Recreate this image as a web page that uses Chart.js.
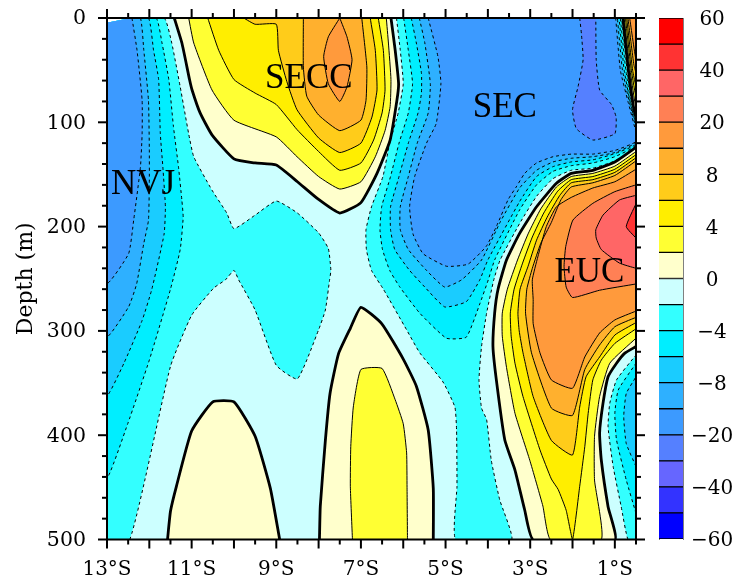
<!DOCTYPE html>
<html><head><meta charset="utf-8">
<script src="https://cdn.jsdelivr.net/npm/chart.js@4"></script>
<style>html,body{margin:0;padding:0;background:#fff}#m{position:absolute;left:0;top:0}#c{position:absolute;left:640px;top:0}</style>
</head><body>
<canvas id="m" width="735" height="581"></canvas>
<canvas id="c" width="95" height="581"></canvas>
<script>
const FONT = '"DejaVu Serif", serif';
const NAMEFONT = '"Liberation Serif", serif';
// contour lines: [latitude, depth]
const domain = [[-13,4.5],[-12.45,0],[-0.5,0],[-0.5,500],[-13,500]];
const m2W = [[-12.45,0],[-11.65,0],[-11.47,24],[-11.27,66],[-11.07,111],[-10.95,133],[-10.52,165],[-10.17,187],[-10,202],[-9.5,189],[-9,175.5],[-8.5,187],[-8,206],[-7.77,221],[-7.71,242],[-7.74,251],[-7.84,280],[-8,299],[-8.5,346],[-9,333],[-9.5,280],[-9.89,251],[-10,242],[-10.2,251],[-10.48,259],[-11,285],[-11.5,334],[-12.46,500],[-13,500],[-13,4.5]];
const m4W = [[-12.45,0],[-11.84,0],[-11.7,24],[-11.54,59],[-11.43,104],[-11.31,143],[-11.23,175],[-11.2,191],[-11.27,222],[-11.5,260],[-12,328],[-12.51,389],[-13,440],[-13,4.5]];
const m6W = [[-12.45,0],[-12.02,0],[-11.9,31],[-11.78,59],[-11.74,111],[-11.68,143],[-11.62,181],[-11.65,207],[-11.94,260],[-12.17,290],[-12.6,331],[-13,361.5],[-13,4.5]];
const m8W = [[-12.45,0],[-12.21,0],[-12.13,31],[-12.02,79],[-12,126],[-12,158],[-12.02,194],[-12.13,216],[-12.3,255],[-12.49,277],[-13,305],[-13,4.5]];
const m12W = [[-12.41,0],[-12.29,31],[-12.17,79],[-12.17,111],[-12.21,143],[-12.37,194],[-12.49,226],[-13,254],[-13,4.5]];
const m2E = [[-6.16,0],[-6.07,31],[-6,63],[-6.12,91],[-6.32,120],[-6.48,152],[-6.75,181],[-6.88,203],[-6.87,222],[-6.75,242],[-6.47,260],[-5.92,299],[-5.61,321],[-5.06,349],[-4.78,373],[-4.74,395],[-4.73,449],[-4.76,500],[-3.44,500],[-3.72,462],[-3.92,424],[-4.03,385],[-4.15,374],[-4.21,347],[-4.15,315],[-4.03,283],[-3.86,251],[-3.71,232],[-3.25,197],[-2.85,171],[-2.46,154],[-2.03,146],[-1.52,144],[-1,137],[-0.5,123],[-0.5,97],[-0.6,82],[-0.71,50],[-0.84,0]];
const m4E = [[-5.99,0],[-5.88,31],[-5.78,63],[-5.88,91],[-6.1,120],[-6.3,152],[-6.51,181],[-6.55,203],[-6.49,222],[-6.32,242],[-6.08,258],[-5.61,283],[-4.98,307],[-4.51,306],[-4.19,274],[-3.99,251],[-3.84,232],[-3.25,184],[-2.85,160],[-2.46,147],[-2.03,141.6],[-1.52,139],[-1,133],[-0.5,122],[-0.5,100],[-0.6,86],[-0.74,50],[-0.87,0]];
const m6E = [[-5.81,0],[-5.69,24],[-5.57,53],[-5.57,72],[-5.65,91],[-5.88,120],[-6.1,152],[-6.3,181],[-6.3,203],[-6.2,222],[-5.85,242],[-5.49,258],[-5.02,277],[-4.51,272],[-4.19,251],[-4,232],[-3.25,176],[-2.85,152],[-2.46,142.5],[-2.03,138],[-1.52,136],[-1,130],[-0.5,121],[-0.5,103],[-0.62,84],[-0.78,50],[-0.9,0]];
const m8E = [[-5.62,0],[-5.49,24],[-5.36,63],[-5.41,91],[-5.67,120],[-5.88,152],[-6.07,181],[-6.07,203],[-5.88,222],[-5.45,242],[-5.02,258],[-4.62,251],[-4.15,232],[-3.7,195],[-3.25,163],[-2.85,146],[-2.46,138],[-2.03,134.5],[-1.52,133],[-1,129],[-0.5,119.5],[-0.5,106],[-0.65,82],[-0.82,50],[-0.94,0]];
const m12E = [[-5.41,0],[-5.18,37],[-5.11,63],[-5.22,101],[-5.45,120],[-5.73,152],[-5.85,181],[-5.77,207],[-5.53,226],[-4.98,238],[-4.47,236],[-4.04,219],[-3.8,200],[-3.52,174],[-3.33,162],[-3.13,149],[-2.85,139],[-2.46,133],[-2.03,130.5],[-1.52,130.5],[-1,127],[-0.5,118.6],[-0.5,110],[-0.69,80],[-0.87,50],[-0.98,0]];
const m20 = [[-1.83,0],[-1.79,15],[-1.75,40],[-1.87,66],[-2,88],[-1.91,106],[-1.52,117],[-1,111],[-0.97,95],[-1.08,83],[-1.36,69],[-1.44,40],[-1.45,0]];
const m2P = [[-0.5,500],[-0.69,500],[-0.85,468.5],[-1.04,430],[-1.16,392],[-1.12,369.5],[-0.96,347],[-0.5,323]];
const m4P = [[-0.5,475],[-0.73,443],[-0.96,404.6],[-1,379],[-0.92,356.7],[-0.5,331]];
const m6P = [[-0.5,430],[-0.73,408],[-0.79,382],[-0.73,360],[-0.5,344]];
const z0A = [[-11.41,0],[-11.23,24],[-11.05,59],[-10.99,69],[-10.8,91],[-10.52,112],[-10,135],[-9.5,139],[-9,141],[-8.5,157],[-8,174],[-7.5,187],[-7,177],[-6.62,149],[-6.31,117],[-6.15,79],[-6.11,63],[-6.19,31],[-6.29,0]];
const p2A = [[-11.07,0],[-10.95,24],[-10.52,69],[-10,98],[-9,114],[-8.51,133],[-8,152],[-7.5,164],[-7,157],[-6.66,133],[-6.43,108],[-6.31,85],[-6.29,59],[-6.35,24],[-6.4,0]];
const p4A = [[-10.62,0],[-10.36,31],[-10,59],[-9.5,72],[-9,83],[-8.51,107],[-8,128],[-7.5,146],[-7,139],[-6.7,117],[-6.5,91],[-6.43,69],[-6.47,31],[-6.59,0]];
const p6A = [[-9.77,0],[-9.5,6],[-9,6],[-8.95,31],[-8.75,61],[-8.51,88],[-8,115],[-7.5,129],[-7,120],[-6.74,95],[-6.62,69],[-6.66,31],[-6.78,0]];
const p8A = [[-8.36,0],[-8.36,47],[-8.28,75],[-8,93],[-7.5,108],[-7,98],[-6.88,79],[-6.86,47],[-6.98,0]];
const p12A = [[-7.5,0],[-7.77,18],[-7.88,37],[-7.77,63],[-7.5,80],[-7.33,66],[-7.21,40],[-7.33,18],[-7.5,0]];
const z0B = [[-11.57,500],[-11.5,473],[-11.36,449],[-11,396],[-10.5,368],[-10,368],[-9.5,401],[-9.14,451],[-8.92,500]];
const z0C = [[-7.98,500],[-7.96,468],[-7.84,405],[-7.73,360],[-7.53,322],[-7.25,297.5],[-7,277.4],[-6.51,293],[-6,327],[-5.69,353],[-5.41,395],[-5.29,451],[-5.29,500]];
const p2C = [[-7.2,500],[-7.25,449],[-7.24,411],[-7.18,373],[-7,337],[-6.5,336],[-6.19,366],[-6,389],[-5.92,417],[-5.91,450],[-5.9,500]];
const z0D = [[-0.5,124],[-1,138],[-1.52,146],[-2.03,149],[-2.38,158.5],[-2.85,181],[-3.25,206.5],[-3.56,232],[-3.76,260],[-3.84,283],[-3.88,315],[-3.8,347],[-3.6,404.6],[-3.36,433.4],[-3.13,471.7],[-2.93,500],[-1,500],[-1.16,468.5],[-1.32,423.8],[-1.36,398],[-1.28,369.5],[-1.16,344],[-0.96,331],[-0.77,321.5],[-0.5,315]];
const p2D = [[-0.5,128],[-1,142],[-1.52,149],[-2.03,152],[-2.38,162],[-2.75,183],[-3.05,207],[-3.3,232],[-3.54,260],[-3.66,283],[-3.66,305],[-3.56,335],[-3.36,379],[-3.01,424],[-2.7,468],[-2.52,500],[-1.32,500],[-1.48,443],[-1.48,401],[-1.36,363],[-1.12,331],[-0.5,307]];
const p4D = [[-0.5,131],[-1,145],[-1.52,152],[-2.03,155],[-2.35,166],[-2.68,187],[-2.95,210],[-3.18,235],[-3.38,260],[-3.47,283],[-3.45,305],[-3.36,331],[-3.17,363],[-2.77,414],[-2.5,442],[-2.34,452],[-2.15,472],[-2,500],[-1.83,449],[-1.71,411],[-1.63,379],[-1.52,347],[-1.32,328],[-1,312],[-0.5,298]];
const p6D = [[-0.5,134],[-1,148],[-1.52,155],[-2.03,158],[-2.3,170],[-2.6,191],[-2.85,213],[-3.05,238],[-3.24,260],[-3.29,283],[-3.26,300],[-3.17,321],[-2.93,363],[-2.5,405],[-2,419],[-1.83,373],[-1.68,344],[-1.36,325],[-1,304],[-0.5,292]];
const p8D = [[-0.5,137],[-1,151],[-1.52,158],[-2.03,162],[-2.27,174],[-2.5,196],[-2.75,216],[-2.95,240],[-3.08,260],[-3.11,283],[-2.97,321],[-2.5,374],[-2,381],[-1.71,337],[-1.36,313.5],[-1,296],[-0.5,287]];
const p12D = [[-0.5,145],[-1,157],[-1.52,163],[-2.03,172],[-2.38,181],[-2.62,200],[-2.82,229],[-2.95,251],[-2.93,270],[-2.93,293],[-2.77,321],[-2.5,347],[-2,355],[-1.71,325],[-1.36,302],[-1,289.5],[-0.5,281]];
const p20D = [[-0.5,160],[-1,166.5],[-1.52,177.7],[-1.99,193.7],[-2.16,219],[-2.2,238],[-2.15,258],[-2,268],[-1.36,261],[-0.5,255]];
const p30D = [[-0.5,170],[-0.89,174.5],[-1.28,189],[-1.45,203],[-1.44,211],[-1.32,222],[-0.89,235],[-0.5,240]];
const p40D = [[-0.5,178],[-0.73,200],[-0.5,211]];
const z0E = [[-0.81,0],[-0.68,50],[-0.56,85],[-0.5,95],[-0.5,0]];
const p2E = [[-0.78,0],[-0.64,50],[-0.53,80],[-0.5,85],[-0.5,0]];
const p4E = [[-0.75,0],[-0.61,50],[-0.5,75],[-0.5,0]];
const p6E = [[-0.72,0],[-0.58,50],[-0.5,65],[-0.5,0]];
const p8E = [[-0.69,0],[-0.55,45],[-0.5,52],[-0.5,0]];
const p12E = [[-0.65,0],[-0.5,40],[-0.5,0]];

// colour scale
const levels = [-60,-50,-40,-30,-20,-12,-8,-6,-4,-2,0,2,4,6,8,12,20,30,40,50,60];
const bandColors = ['#0000ff','#3333ff','#6666ff','#5580ff','#3c9aff','#2eb0ff','#1accff','#00eeff','#33ffff','#ccffff','#ffffcc','#ffff33','#ffee00','#ffcc1a','#ffb02e','#ff9a3c','#ff8055','#ff6666','#ff3333','#ff0000'];
const levelLabels = [-60,-40,-20,-8,-4,0,4,8,20,40,60];
const bandOf = lower => bandColors[levels.indexOf(lower)];

// axes
const xLabels = [-13,-11,-9,-7,-5,-3,-1];
const xMajor = [-13,-12,-11,-10,-9,-8,-7,-6,-5,-4,-3,-2,-1];
const xMinor = [-12.5,-11.5,-10.5,-9.5,-8.5,-7.5,-6.5,-5.5,-4.5,-3.5,-2.5,-1.5,-0.5];
const depthMajor = [0,100,200,300,400,500];
const depthMinor = [20,40,60,80,120,140,160,180,220,240,260,280,320,340,360,380,420,440,460,480];
const regionNames = ['SECC','SEC','NVJ','EUC'];
const regionLat = [-8.23,-3.6,-12.15,-1.6];
const regionDepth = [58,86.5,159.5,244.5];
const xEdges = [-13,-0.5];
const depthEdges = [0,500];

// painted bottom to top: [line, lower level of the band inside, line kind]
const layers = [
 [domain,-2,'none'],
 [m2W,-4,'dash'],[m4W,-6,'dash'],[m6W,-8,'dash'],[m8W,-12,'dash'],[m12W,-20,'dash'],
 [m2E,-4,'dash'],[m4E,-6,'dash'],[m6E,-8,'dash'],[m8E,-12,'dash'],[m12E,-20,'dash'],[m20,-30,'dash'],
 [m2P,-4,'dash'],[m4P,-6,'dash'],[m6P,-8,'dash'],
 [z0A,0,'thick'],[p2A,2,'thin'],[p4A,4,'thin'],[p6A,6,'thin'],[p8A,8,'thin'],[p12A,12,'thin'],
 [z0B,0,'thick'],[z0C,0,'thick'],[p2C,2,'thin'],
 [z0D,0,'thick'],[p2D,2,'thin'],[p4D,4,'thin'],[p6D,6,'thin'],[p8D,8,'thin'],[p12D,12,'thin'],[p20D,20,'thin'],[p30D,30,'thin'],[p40D,40,'thin'],
 [z0E,0,'thick'],[p2E,2,'thin'],[p4E,4,'thin'],[p6E,6,'thin'],[p8E,8,'thin'],[p12E,12,'thin']
];
const W = {dash:1,thin:1,thick:2.8};
const onEdge = c => {
  const a=c.p0.parsed,b=c.p1.parsed;
  return (a.x===b.x&&xEdges.includes(a.x))||(a.y===b.y&&depthEdges.includes(a.y));
};
const toXY = pts => pts.map(p => ({x:p[0],y:p[1]}));
const fills = layers.slice().reverse().map(([pts,lvl]) => ({
  data: toXY(pts), showLine:true, pointRadius:0, fill:'shape', tension:0.15,
  backgroundColor: bandOf(lvl), borderColor:'rgba(0,0,0,0)', borderWidth:0
}));
const strokes = layers.filter(l=>l[2]!=='none').reverse().map(([pts,lvl,kind]) => ({
  data: toXY(pts), showLine:true, pointRadius:0, fill:false, tension:0.15,
  borderColor:'#000', borderWidth:W[kind], borderDash: kind==='dash'?[3,3]:[], borderJoinStyle:'round',
  segment:{borderColor:c=>onEdge(c)?'rgba(0,0,0,0)':undefined}
}));

const frameTicks = {
  id:'frameTicks',
  afterDatasetsDraw(ch){
    const {ctx,scales:{x,y}} = ch;
    ctx.save(); ctx.fillStyle='#000'; ctx.textAlign='center'; ctx.textBaseline='middle';
    ctx.font='35px '+NAMEFONT;
    regionNames.forEach((t,i)=>ctx.fillText(t,x.getPixelForValue(regionLat[i]),y.getPixelForValue(regionDepth[i])));
    ctx.restore();
  },
  afterDraw(ch){
    const {ctx,chartArea:a,scales:{x,y}} = ch;
    ctx.save(); ctx.strokeStyle='#000'; ctx.lineWidth=2;
    const seg=(x0,y0,x1,y1)=>{ctx.beginPath();ctx.moveTo(x0,y0);ctx.lineTo(x1,y1);ctx.stroke();};
    const xt=(v,l)=>{const p=x.getPixelForValue(v);seg(p,a.top,p,a.top-l);seg(p,a.bottom,p,a.bottom+l);};
    const yt=(v,l)=>{const p=y.getPixelForValue(v);seg(a.left,p,a.left-l,p);seg(a.right,p,a.right+l,p);};
    xMajor.forEach(v=>xt(v,9)); xMinor.forEach(v=>xt(v,5));
    depthMajor.forEach(v=>yt(v,9)); depthMinor.forEach(v=>yt(v,5));
    ctx.strokeRect(a.left,a.top,a.right-a.left,a.bottom-a.top);
    ctx.restore();
  }
};

new Chart(document.getElementById('m'),{
  type:'scatter',
  data:{datasets:strokes.concat(fills)},
  plugins:[frameTicks],
  options:{
    responsive:false,animation:false,
    layout:{padding:{top:18,right:99,left:0,bottom:0}},
    plugins:{legend:{display:false},tooltip:{enabled:false}},
    scales:{
      x:{type:'linear',min:-13,max:-0.5,
        grid:{display:false,drawTicks:false},border:{display:false},
        afterBuildTicks:s=>{s.ticks=xLabels.map(v=>({value:v}));},
        afterFit:s=>{s.height=41.5;s.paddingLeft=0;s.paddingRight=0;},
        ticks:{autoSkip:false,maxRotation:0,padding:18,color:'#000',font:{family:FONT,size:20},callback:v=>Math.abs(v)+'°S'}},
      y:{type:'linear',reverse:true,min:0,max:500,
        grid:{display:false,drawTicks:false},border:{display:false},
        afterBuildTicks:s=>{s.ticks=depthMajor.map(v=>({value:v}));},
        afterFit:s=>{s.width=107;s.paddingTop=0;s.paddingBottom=0;},
        title:{display:true,text:'Depth (m)',color:'#000',font:{family:FONT,size:22},padding:{top:13,bottom:0}},
        ticks:{autoSkip:false,padding:21,labelOffset:1,color:'#000',font:{family:FONT,size:20.5}}}
    }
  }
});

new Chart(document.getElementById('c'),{
  type:'bar',
  data:{labels:[''],datasets:bandColors.map(c=>({
    data:[1],yAxisID:'y',backgroundColor:c,borderColor:'#000',borderWidth:{top:1,bottom:1,left:0,right:0},
    borderSkipped:false,barPercentage:1,categoryPercentage:1,stack:'s'}))},
  options:{
    responsive:false,animation:false,
    layout:{padding:{top:18,left:19,right:0,bottom:42}},
    plugins:{legend:{display:false},tooltip:{enabled:false}},
    scales:{
      x:{display:false,stacked:true},
      yl:{position:'left',min:0,max:20,grid:{display:false,drawTicks:false},
        border:{display:true,color:'#808080',width:1},ticks:{display:false},afterFit:s=>{s.width=0;s.paddingTop=0;s.paddingBottom=0;}},
      y:{position:'right',stacked:true,min:0,max:20,
        grid:{display:false,drawTicks:false},border:{display:true,color:'#808080',width:1},
        afterBuildTicks:s=>{s.ticks=levelLabels.map(l=>({value:levels.indexOf(l)}));},
        afterFit:s=>{s.width=52;s.paddingTop=0;s.paddingBottom=0;},
        ticks:{autoSkip:false,crossAlign:'center',padding:8,labelOffset:2,color:'#000',font:{family:FONT,size:20},
          callback:v=>{const l=levels[v];return l<0?'−'+Math.abs(l):String(l);}}}
    }
  }
});
</script>
</body></html>
